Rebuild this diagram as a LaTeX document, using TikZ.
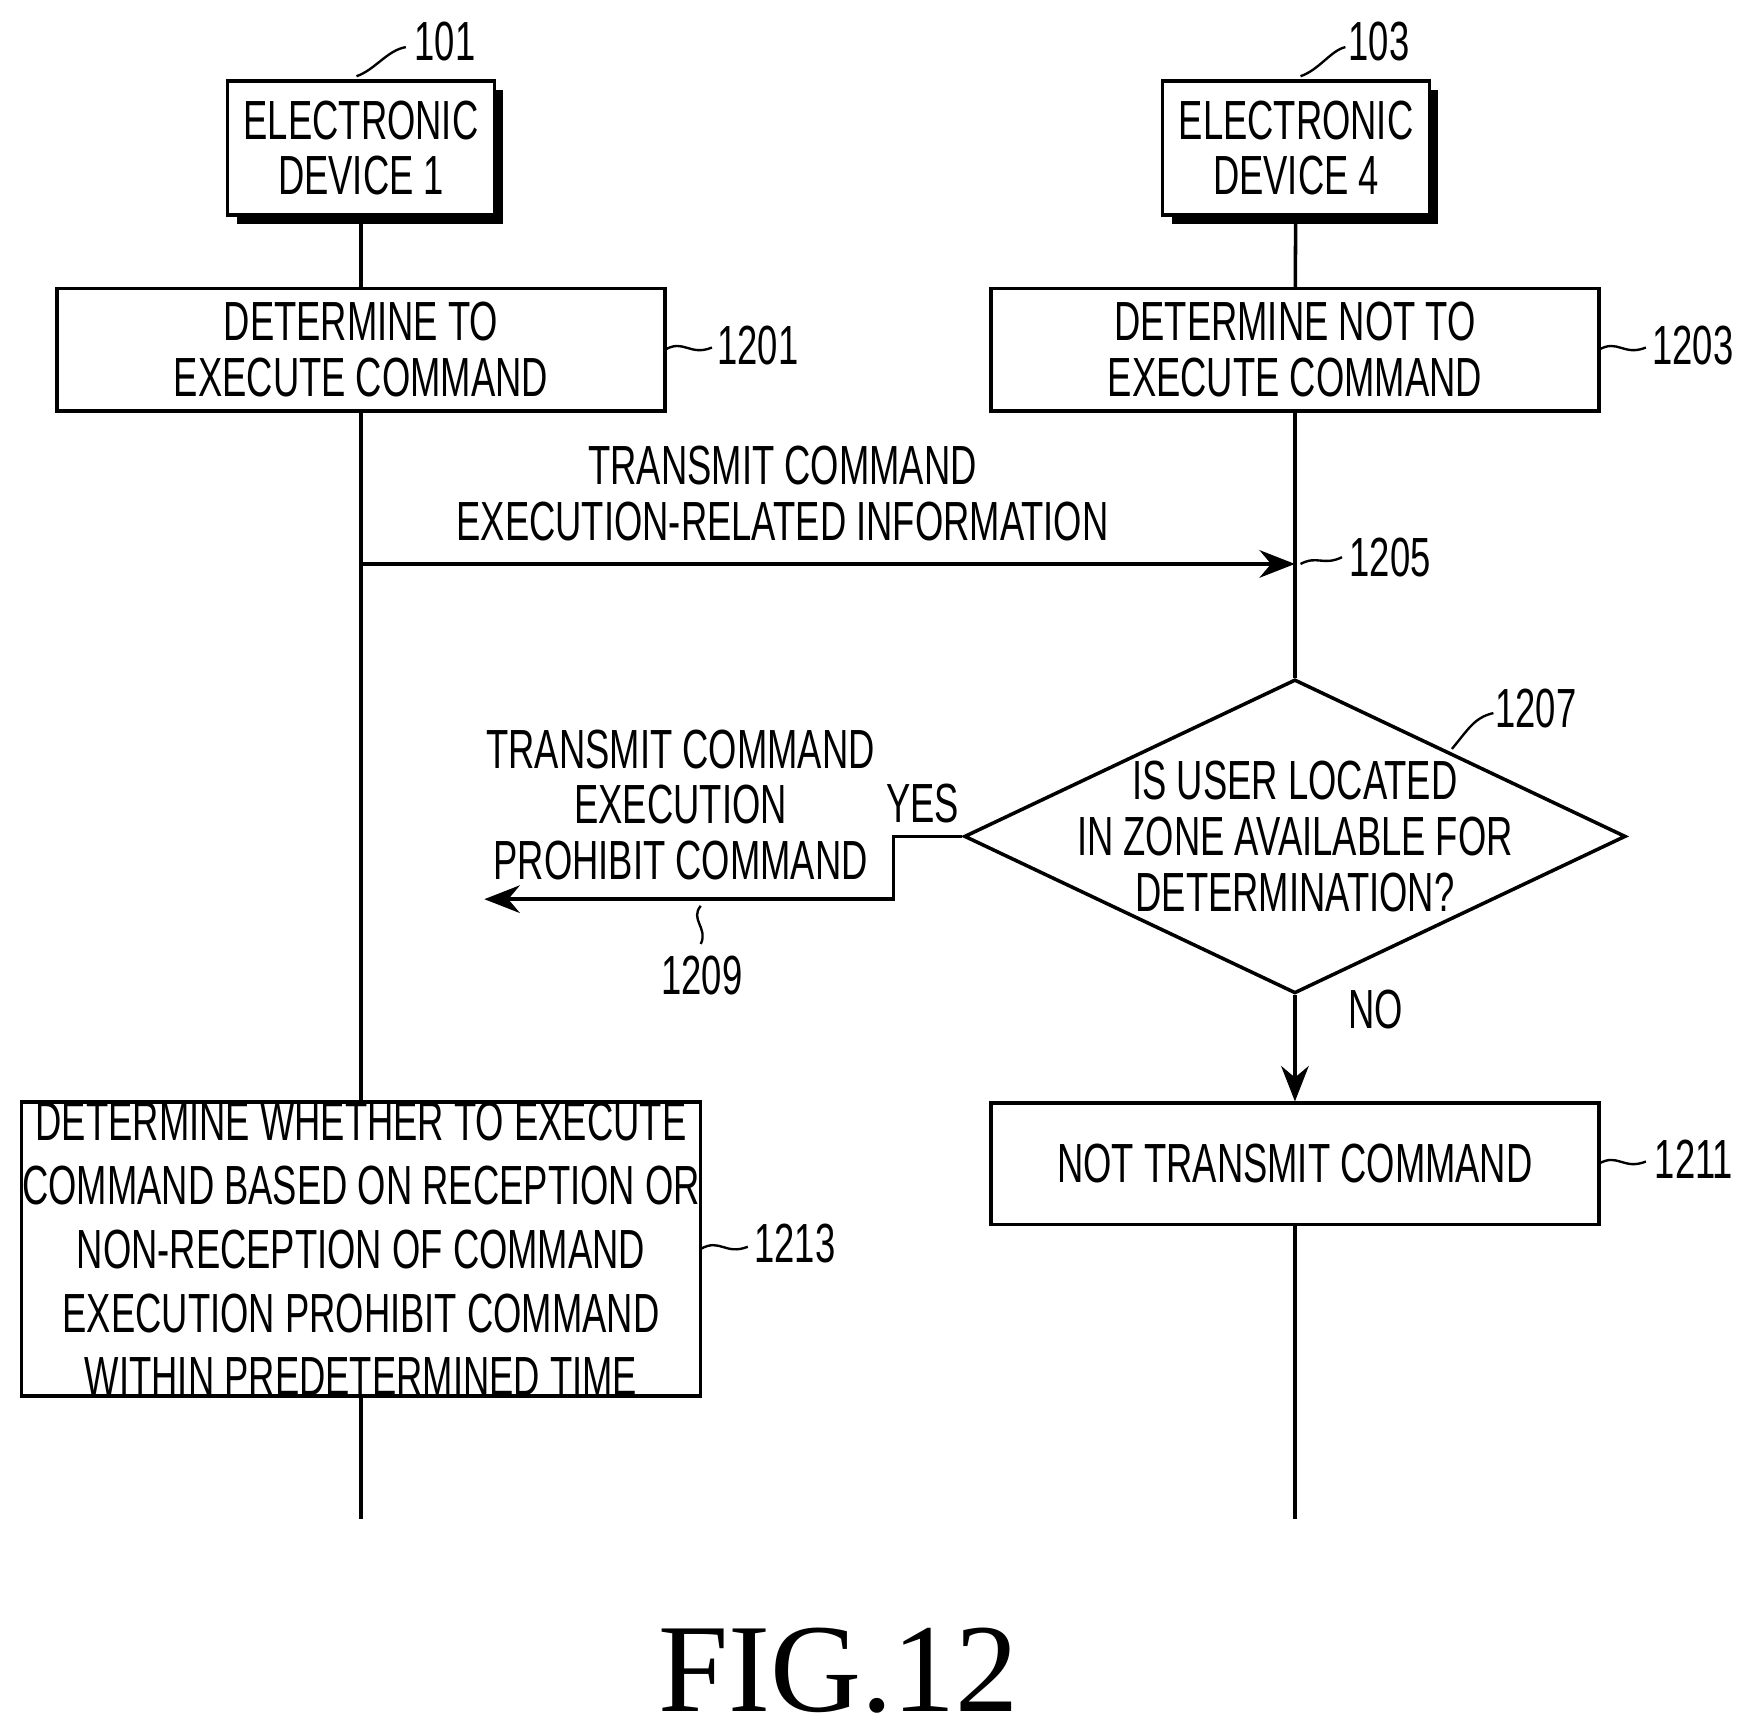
\documentclass[tikz,border=0pt]{standalone}
\usepackage{fontspec}
\setmainfont{Liberation Sans}[FakeStretch=0.66]
\newfontfamily\figfont{Liberation Serif}
\usetikzlibrary{positioning,shapes.geometric,arrows.meta}
\tikzset{
  opbox/.style={draw,line width=0.9pt,align=center,inner sep=0pt,font=\fontsize{14}{14.2}\selectfont},
  lbl/.style={font=\fontsize{14}{14.2}\selectfont,inner sep=0pt},
  tick/.style={line width=0.6pt},
  msg/.style={line width=0.9pt,-{Stealth[length=9pt,width=7pt]}}
}
\begin{document}
\begin{tikzpicture}[x=0.1mm,y=-0.1mm]
\useasboundingbox (0,0) rectangle (1560,1534);
% devices
\fill (211,80) rectangle (449,200);
\node[opbox,fill=white,minimum width=23.8mm,minimum height=12mm] (dev1) at (322,132) {ELECTRONIC\\DEVICE 1};
\fill (1045,80) rectangle (1283,200);
\node[opbox,fill=white,minimum width=23.8mm,minimum height=12mm] (dev4) at (1156,132) {ELECTRONIC\\DEVICE 4};
\node[lbl] (n101) at (397,37) {101};
\node[lbl] (n103) at (1230,37) {103};
\draw[tick] (318,68) .. controls (335,62) and (345,45) .. (362,42);
\draw[tick] (1160,68) .. controls (1177,62) and (1187,45) .. (1200,42);
% steps
\node[opbox,minimum width=54.2mm,minimum height=10.9mm] (s1201) at (322,312) {DETERMINE TO\\EXECUTE COMMAND};
\node[opbox,minimum width=54.2mm,minimum height=10.9mm] (s1203) at (1155,312) {DETERMINE NOT TO\\EXECUTE COMMAND};
\node[lbl] (n1201) at (676,308) {1201};
\node[lbl] (n1203) at (1510,308) {1203};
\draw[tick] (593,312) .. controls (610,302) and (615,318) .. (635,310);
\draw[tick] (1426,312) .. controls (1443,302) and (1448,318) .. (1468,310);
% lifelines
\coordinate (e1) at (322,1355);
\coordinate (e4) at (1155,1355);
\draw[line width=0.9pt] (dev1) -- (s1201);
\draw[line width=0.9pt] (dev4) -- (s1203);
\node[opbox,minimum width=60.6mm,minimum height=26mm] (s1213) at (322,1114) {DETERMINE WHETHER TO EXECUTE\\[2pt]COMMAND BASED ON RECEPTION OR\\[2pt]NON-RECEPTION OF COMMAND\\[2pt]EXECUTION PROHIBIT COMMAND\\[2pt]WITHIN PREDETERMINED TIME};
\draw[line width=0.9pt] (s1201) -- (s1213) (s1213) -- (e1);
% message 1205
\coordinate (m1) at (322,503);
\coordinate (m4) at (1155,503);
\draw[msg] (m1) -- (m4);
\node[lbl,align=center] (t1205) at (698,440) {TRANSMIT COMMAND\\EXECUTION-RELATED INFORMATION};
\node[lbl] (n1205) at (1240,497) {1205};
\draw[tick] (1160,503) .. controls (1175,495) and (1180,505) .. (1197,497);
% decision
\node[draw,line width=0.9pt,diamond,aspect=2.1,minimum width=59mm,minimum height=28mm,inner sep=0pt] (d1207) at (1155,746) {};
\node[lbl,align=center] at (d1207) {IS USER LOCATED\\IN ZONE AVAILABLE FOR\\DETERMINATION?};
\draw[line width=0.9pt] (s1203) -- (d1207.north);
\node[lbl] (n1207) at (1370,632) {1207};
\draw[tick] (1295,668) .. controls (1310,650) and (1315,640) .. (1332,636);
% yes branch
\coordinate (c1209) at (432,802);
\draw[msg] (d1207.west) -- (797,746) -- (797,802) -- (c1209);
\node[lbl] (yes) at (823,717) {YES};
\node[lbl,align=center] (t1209) at (607,718) {TRANSMIT COMMAND\\EXECUTION\\PROHIBIT COMMAND};
\node[lbl] (n1209) at (626,870) {1209};
\draw[tick] (625,808) .. controls (615,820) and (632,828) .. (625,842);
% no branch
\node[opbox,minimum width=54.2mm,minimum height=10.8mm] (s1211) at (1155,1038) {NOT TRANSMIT COMMAND};
\draw[msg] (d1207.south) -- (s1211.north);
\node[lbl] (no) at (1227,900) {NO};
\draw[line width=0.9pt] (s1211) -- (e4);
\node[lbl] (n1211) at (1511,1034) {1211};
\node[lbl] (n1213) at (709,1109) {1213};
\draw[tick] (1426,1038) .. controls (1443,1028) and (1448,1044) .. (1468,1036);
\draw[tick] (625,1114) .. controls (642,1104) and (647,1120) .. (667,1112);
\node[font=\figfont\fontsize{32}{36}\selectfont] (fig) at (748,1490) {FIG.12};
\end{tikzpicture}
\end{document}
